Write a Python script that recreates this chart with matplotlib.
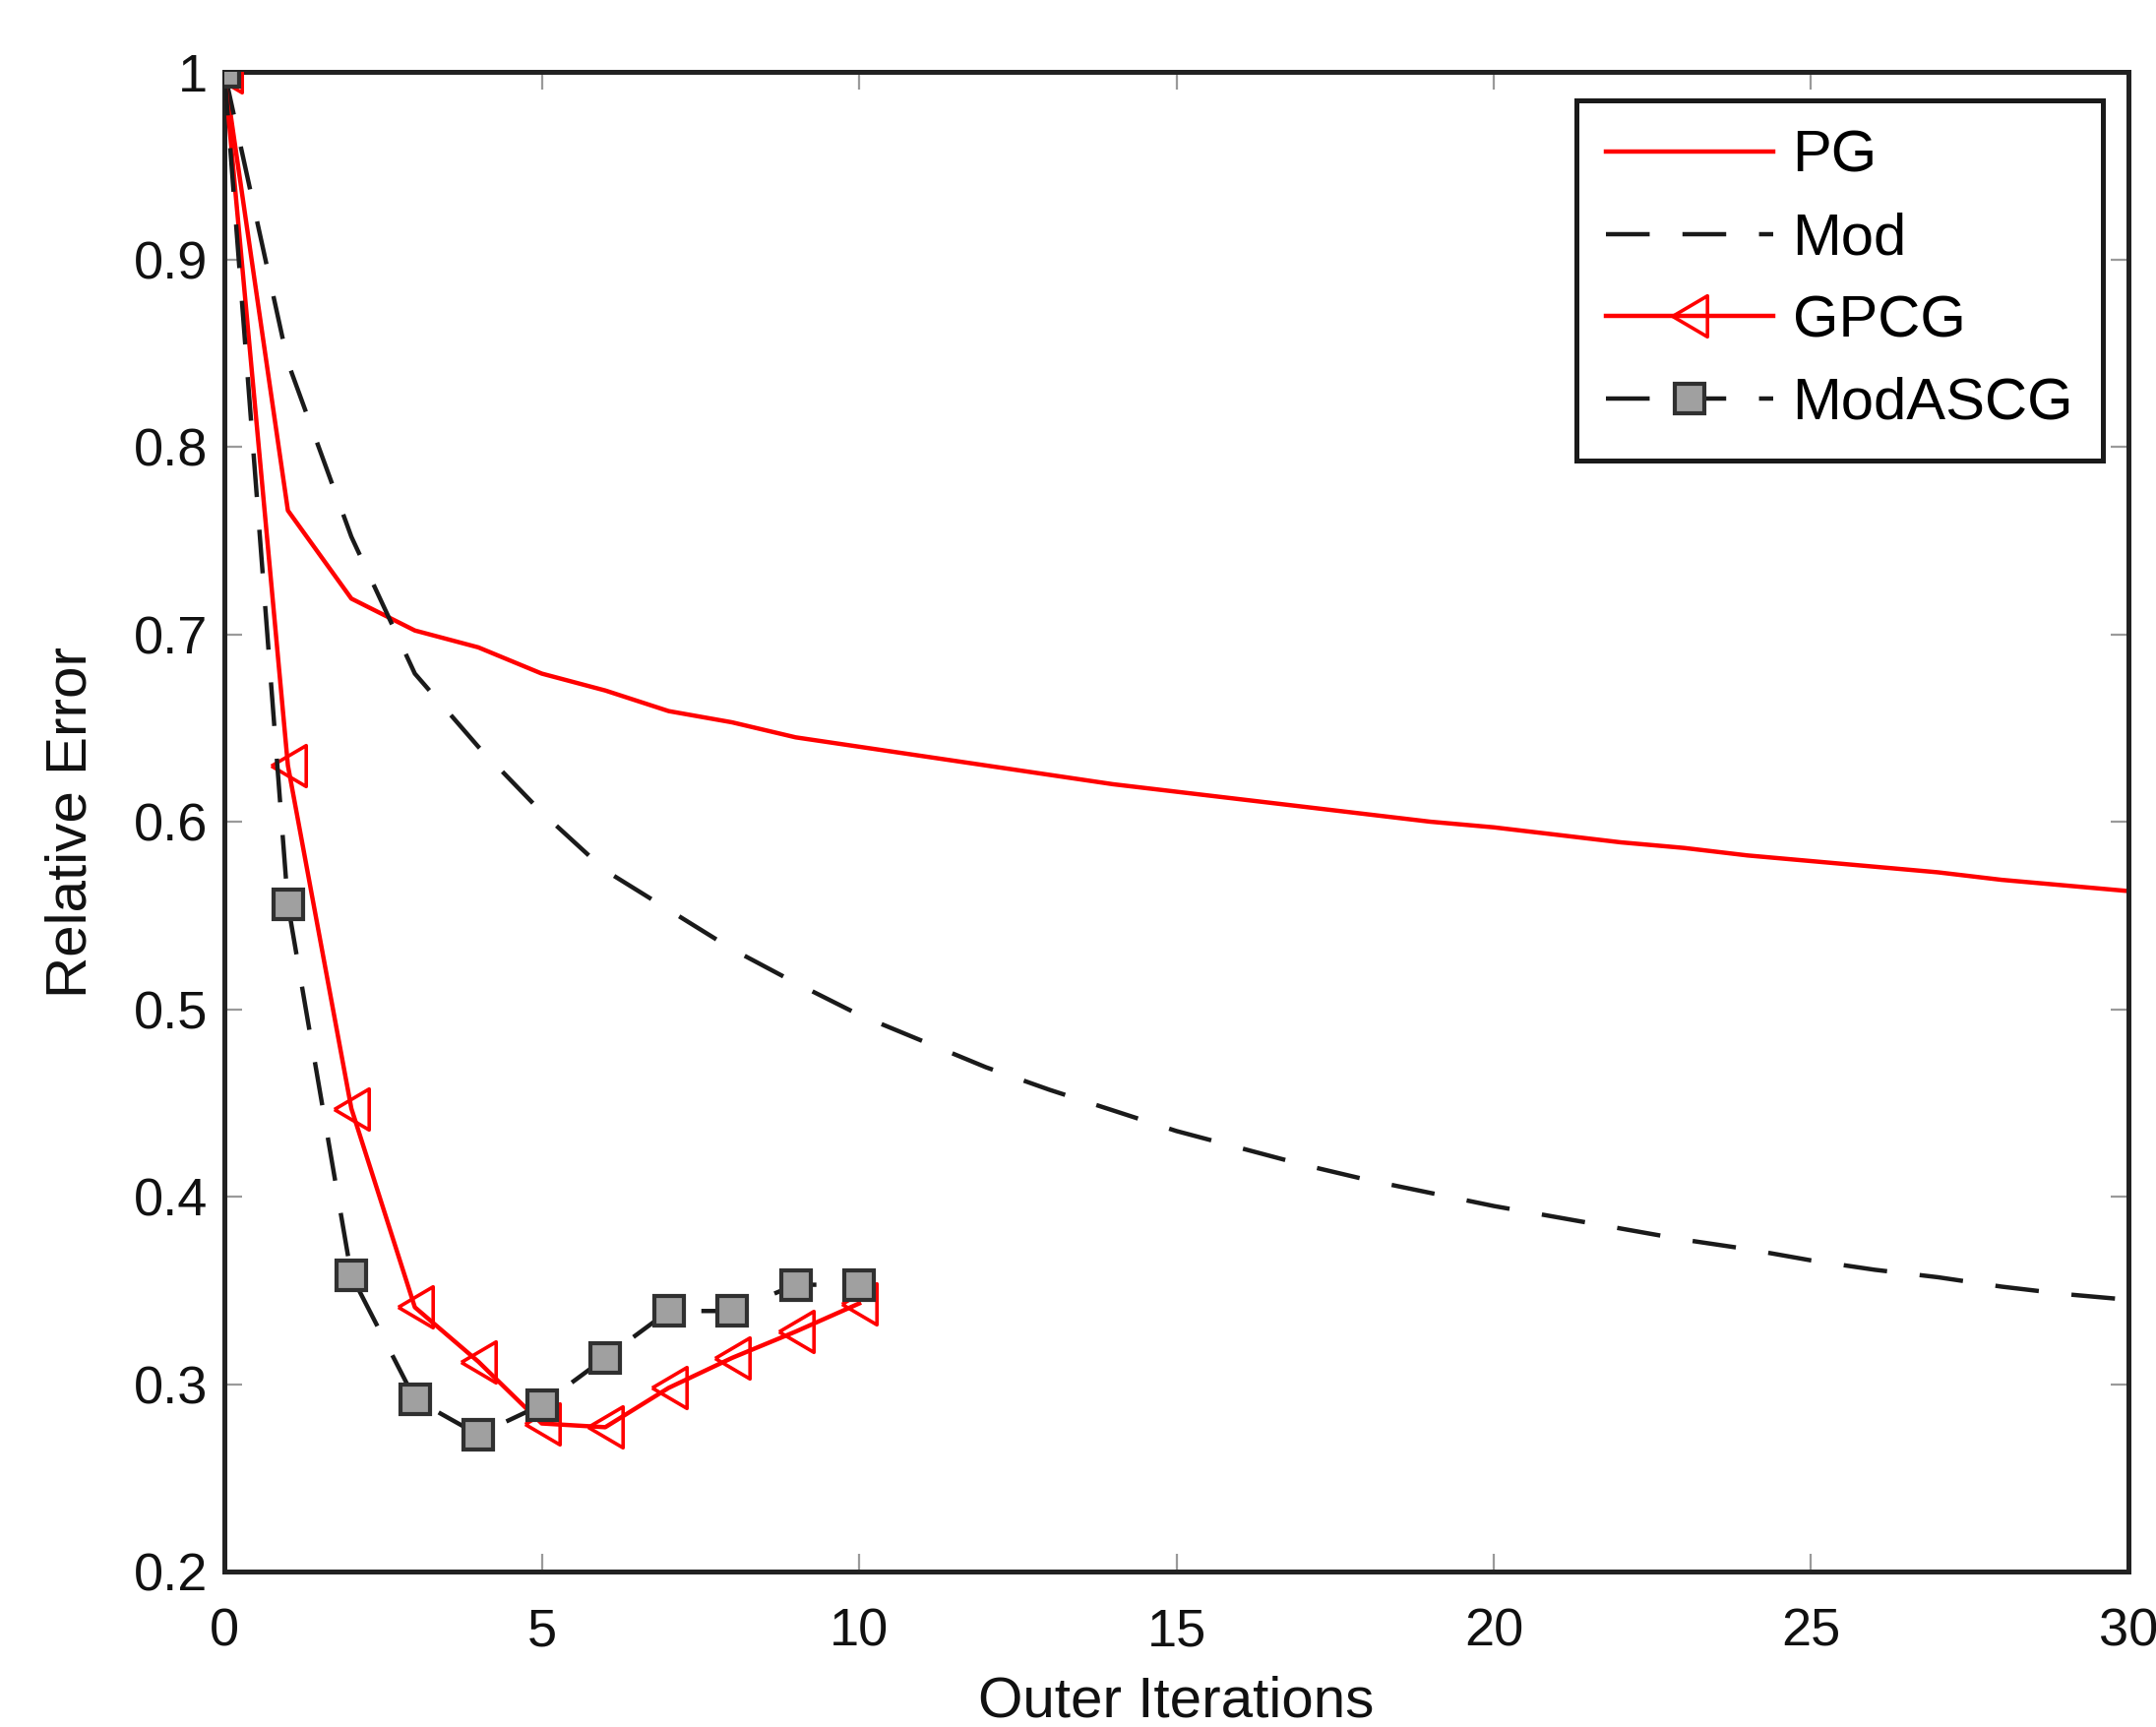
import numpy as np
import matplotlib
matplotlib.use("Agg")
import matplotlib.pyplot as plt

plt.rcParams['font.family'] = ['Liberation Sans', 'DejaVu Sans']

# ---- data ----
pg_x = list(range(0, 31))
pg_y = [1.0, 0.766, 0.719, 0.702, 0.693, 0.679, 0.670, 0.659, 0.653, 0.645,
        0.640, 0.635, 0.630, 0.625, 0.620, 0.616, 0.612, 0.608, 0.604, 0.600,
        0.597, 0.593, 0.589, 0.586, 0.582, 0.579, 0.576, 0.573, 0.569, 0.566,
        0.563]

mod_x = list(range(0, 31))
mod_y = [1.0, 0.845, 0.752, 0.679, 0.640, 0.605, 0.574, 0.553, 0.532, 0.514,
         0.497, 0.483, 0.469, 0.457, 0.446, 0.435, 0.426, 0.417, 0.409, 0.402,
         0.395, 0.389, 0.383, 0.377, 0.372, 0.366, 0.361, 0.357, 0.352, 0.348,
         0.345]

gpcg_x = list(range(0, 11))
gpcg_y = [1.0, 0.630, 0.447, 0.341, 0.312, 0.279, 0.277, 0.298, 0.314, 0.328, 0.343]

modascg_x = list(range(0, 11))
modascg_y = [1.0, 0.556, 0.358, 0.292, 0.273, 0.289, 0.314, 0.339, 0.339, 0.353, 0.353]

labels = ['PG', 'Mod', 'GPCG', 'ModASCG']
x_ticks = [0, 5, 10, 15, 20, 25, 30]
y_ticks = [0.2, 0.3, 0.4, 0.5, 0.6, 0.7, 0.8, 0.9, 1.0]
y_ticklabels = ['0.2', '0.3', '0.4', '0.5', '0.6', '0.7', '0.8', '0.9', '1']

# ---- figure ----
fig = plt.figure(figsize=(21.91, 17.55), dpi=100)
ax = fig.add_axes([0.1041, 0.0900, 0.9872 - 0.1041, 0.9584 - 0.0900])

red = '#ff0000'
blk = '#1a1a1a'
tri = [(-0.85, 0.0), (0.85, 1.0), (0.85, -1.0), (-0.85, 0.0)]
LW = 3.2

ax.plot(pg_x, pg_y, '-', color=red, lw=LW, label=labels[0], zorder=2)
ax.plot(mod_x, mod_y, color=blk, lw=LW, dashes=(10, 7.5), label=labels[1], zorder=2)
ax.plot(gpcg_x, gpcg_y, '-', color=red, lw=LW, marker=tri, markersize=30,
        markerfacecolor='none', markeredgecolor=red, markeredgewidth=2.6,
        label=labels[2], zorder=3)
ax.plot(modascg_x, modascg_y, color=blk, lw=LW, dashes=(10, 7.5), marker='s',
        markersize=21, markerfacecolor='#a0a0a0', markeredgecolor='#303030',
        markeredgewidth=3, label=labels[3], zorder=3)

ax.set_xlim(0, 30)
ax.set_ylim(0.2, 1.0)
ax.set_xticks(x_ticks)
ax.set_yticks(y_ticks)
ax.set_yticklabels(y_ticklabels)

for s in ax.spines.values():
    s.set_linewidth(3.6)
    s.set_color('#222222')

ax.tick_params(axis='both', which='both', direction='in', length=13, width=1.6,
               color='#9a9a9a', top=True, right=True, labelsize=39,
               labelcolor='#111111')
ax.tick_params(axis='x', pad=26)
ax.tick_params(axis='y', pad=12)

ax.set_xlabel('Outer Iterations', fontsize=42, color='#111111', labelpad=14)
ax.set_ylabel('Relative Error', fontsize=42, color='#111111', labelpad=26)

leg = ax.legend(loc='upper right', bbox_to_anchor=(0.9866, 0.981), fontsize=43,
                frameon=True, fancybox=False, framealpha=1, edgecolor='#1a1a1a',
                handlelength=2.85, handletextpad=0.33, labelspacing=0.48,
                borderpad=0.5, borderaxespad=0.0, numpoints=1)
leg.get_frame().set_linewidth(3.6)

fig.savefig('out.png', dpi=100)
